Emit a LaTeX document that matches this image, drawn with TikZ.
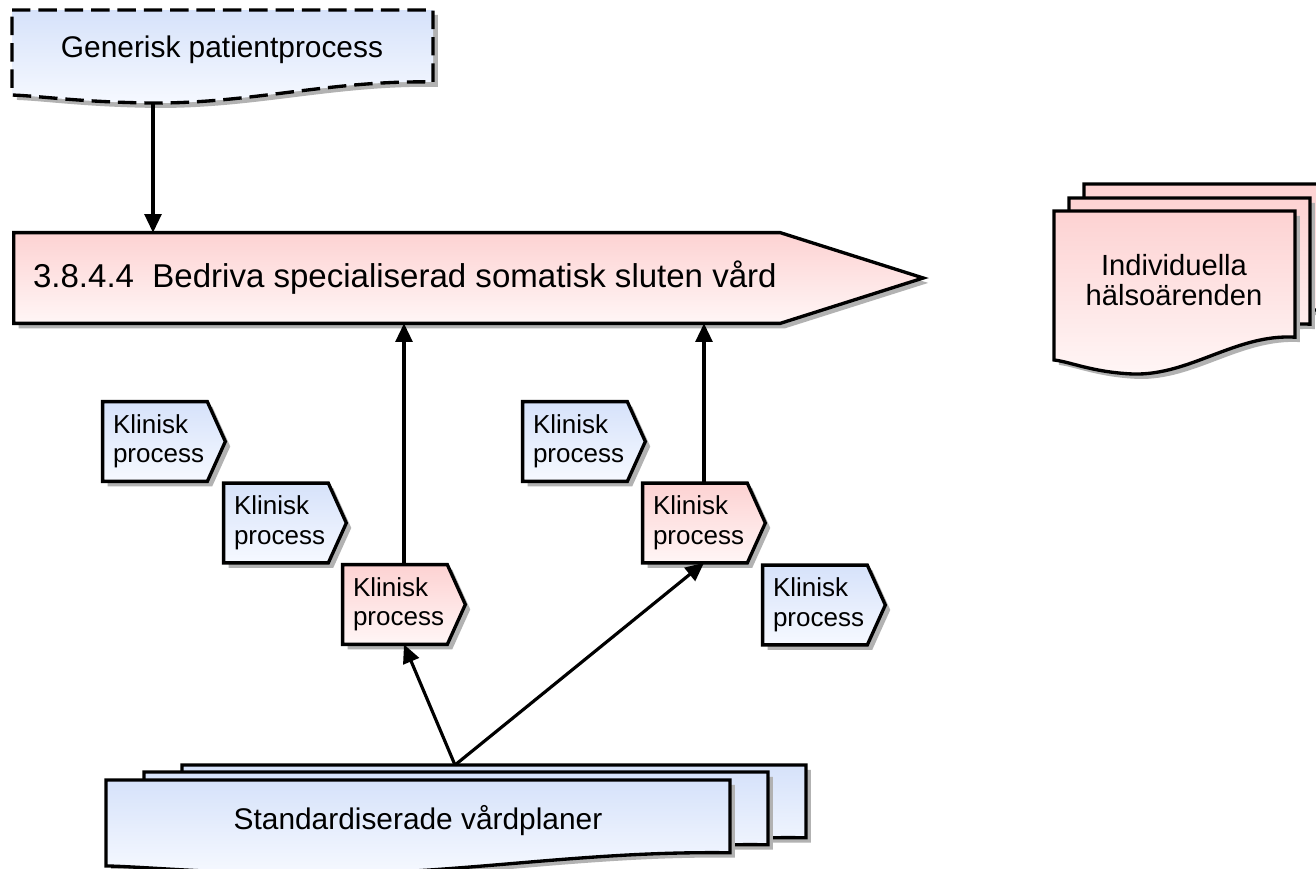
\documentclass[tikz,border=0pt]{standalone}
\usepackage{fontspec}
\setmainfont{Liberation Sans}
\usetikzlibrary{arrows.meta,shadows,calc}

\definecolor{blueTop}{RGB}{214,226,250}
\definecolor{blueBot}{RGB}{246,249,255}
\definecolor{pinkTop}{RGB}{253,210,210}
\definecolor{pinkBot}{RGB}{255,246,246}

\pgfdeclareradialshading{bgglow}{\pgfpoint{0bp}{0bp}}{color(0bp)=(white); color(24bp)=(white); color(43bp)=(black!8); color(75bp)=(black!10)}

% sheet with a wavy lower edge: style, x, y, width, height
\newcommand{\docsheet}[5]{%
  \draw[#1] (#2,#3) -- ({#2+#4},#3) -- ({#2+#4},{#3+0.774*#5})
    .. controls ({#2+0.755*#4},{#3+0.753*#5}) and ({#2+0.565*#4},{#3+1.01*#5}) .. ({#2+0.328*#4},{#3+#5})
    .. controls ({#2+0.162*#4},{#3+0.99*#5}) and ({#2+0.067*#4},{#3+0.925*#5}) .. (#2,{#3+0.914*#5}) -- cycle;}

\begin{document}
\begin{tikzpicture}[x=0.02cm, y=-0.02cm,
    procline/.style={line width=1.9pt, line join=miter,
      drop shadow={shadow xshift=2.8pt, shadow yshift=-2.8pt, fill=black!30, opacity=1}},
    blueproc/.style={procline, top color=blueTop, bottom color=blueBot},
    pinkproc/.style={procline, top color=pinkTop, bottom color=pinkBot},
    flow/.style={line width=1.8pt, -{Triangle[length=10.5pt, width=9.5pt]}},
    kpbox/.style={minimum width=2.44cm, minimum height=1.58cm, inner sep=0},
    kptext/.style={inner sep=0, align=left, font=\fontsize{14.8}{16.8}\selectfont},
    lbl/.style={inner sep=0, align=center, font=\fontsize{17}{17.1}\selectfont}]
  \useasboundingbox (0,0) rectangle (1316,869);
  \clip (0,0) rectangle (1316,869);
  \shade[shading=bgglow] (-700,-500) rectangle (1700,1300);

  % generic process
  \docsheet{blueproc, dash pattern=on 10.5pt off 4.5pt}{12}{10}{421}{93}
  \node[lbl] (gen) at (222,50) {Generisk patientprocess};
  \coordinate (genfoot) at (153,103);

  % main process arrow
  \node[minimum width=18.18cm, minimum height=1.8cm, inner sep=0] (big) at (468.5,278) {};
  \draw[pinkproc] (big.north west) -- ([xshift=-2.86cm]big.north east) -- (big.east)
    -- ([xshift=-2.86cm]big.south east) -- (big.south west) -- cycle;
  \node[anchor=west, inner sep=0, font=\fontsize{18.8}{20}\selectfont] (bigtxt)
    at ([xshift=0.38cm]big.west) {3.8.4.4\ \ Bedriva specialiserad somatisk sluten vård};

  % health matters
  \docsheet{pinkproc}{1084}{184}{241}{163}
  \docsheet{pinkproc}{1069}{198}{241}{163}
  \docsheet{pinkproc}{1054}{211}{241}{163}
  \node[lbl, font=\fontsize{16.6}{17.1}\selectfont] (ind) at (1174,280) {Individuella\\hälsoärenden};

  % clinical processes
  \foreach \n/\x/\y/\c in {kp1/164/441.5/blueproc, kp2/285/523/blueproc, kp3/404/604.5/pinkproc,
      kp4/584/441.5/blueproc, kp5/704/523/pinkproc, kp6/824/605/blueproc}{
    \node[kpbox] (\n) at (\x,\y) {};
    \draw[\c] (\n.north west) -- ([xshift=-0.36cm]\n.north east) -- (\n.east)
      -- ([xshift=-0.36cm]\n.south east) -- (\n.south west) -- cycle;
    \node[kptext, anchor=west] (\n-txt) at ([xshift=0.2cm]\n.west) {Klinisk\\process};
  }

  % care plans
  \docsheet{blueproc}{182}{765}{624}{94}
  \docsheet{blueproc}{144}{772}{624}{94}
  \docsheet{blueproc}{106}{780}{624}{94}
  \node[lbl] (std) at (418,821) {Standardiserade vårdplaner};
  \coordinate (stdtop) at (455,765);

  \draw[flow] (genfoot) -- (genfoot |- big.north);
  \draw[flow] (kp3.north) -- (kp3.north |- big.south);
  \draw[flow] (kp5.north) -- (kp5.north |- big.south);
  \draw[flow] (stdtop) -- (kp3.south);
  \draw[flow] (stdtop) -- (kp5.south);
\end{tikzpicture}
\end{document}
